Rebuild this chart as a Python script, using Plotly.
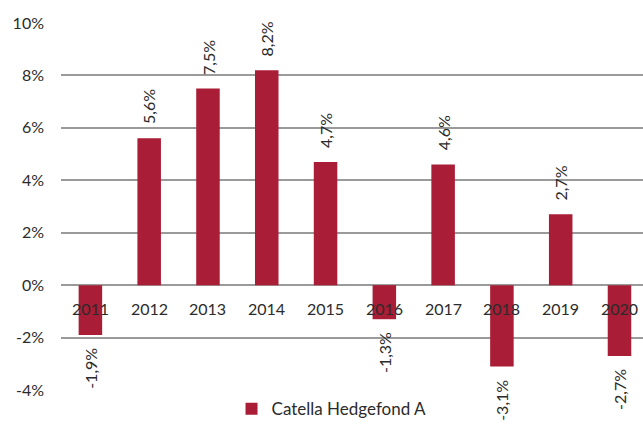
import plotly.graph_objects as go

# Annual returns, percent
years = ["2011", "2012", "2013", "2014", "2015", "2016", "2017", "2018", "2019", "2020"]
returns = [-1.9, 5.6, 7.5, 8.2, 4.7, -1.3, 4.6, -3.1, 2.7, -2.7]
series_name = "Catella Hedgefond A"

y_ticks = [-4, -2, 0, 2, 4, 6, 8, 10]
y_tick_text = [f"{v}%" for v in y_ticks]

BAR = "#A91D36"
TEXT = "#2b2b2b"
GRID = "#9a9a9a"
FONT = "Lato"

fig = go.Figure()
fig.add_trace(go.Bar(
    x=list(range(len(years))), y=returns, name=series_name,
    marker=dict(color=BAR, line=dict(width=0)), width=0.4,
    showlegend=True,
))

annotations = []
# rotated value labels at the bar ends
for i, v in enumerate(returns):
    label = f"{v:.1f}%".replace(".", ",")
    annotations.append(dict(
        x=i, y=v, xref="x", yref="y", text=label, showarrow=False,
        textangle=-90, font=dict(family=FONT, size=16, color=TEXT),
        yanchor="bottom" if v >= 0 else "top",
        yshift=12 if v >= 0 else -11,
    ))
# category labels sit on the zero line
for i, yr in enumerate(years):
    annotations.append(dict(
        x=i, y=0, xref="x", yref="y", text=yr, showarrow=False,
        font=dict(family=FONT, size=16, color=TEXT),
        yanchor="middle", yshift=-23,
    ))

fig.update_layout(
    width=643, height=441,
    margin=dict(l=61, r=0, t=23, b=51),
    paper_bgcolor="white", plot_bgcolor="white",
    font=dict(family=FONT, size=16, color=TEXT),
    bargap=0.6,
    xaxis=dict(range=[-0.5, 9.4], showticklabels=False, showgrid=False,
               zeroline=False, showline=False, ticks=""),
    yaxis=dict(range=[-4, 10], tickvals=y_ticks, ticktext=y_tick_text,
               showgrid=True, gridcolor=GRID, gridwidth=1.5,
               zeroline=True, zerolinecolor=GRID, zerolinewidth=1.5,
               showline=False, ticks="", ticklabelstandoff=16,
               tickfont=dict(family=FONT, size=16, color=TEXT)),
    legend=dict(orientation="h", x=0.293, xanchor="left", y=-0.052,
                yanchor="middle", font=dict(family=FONT, size=17, color=TEXT),
                bgcolor="rgba(0,0,0,0)"),
    annotations=annotations,
)

fig.write_html("out.html")
